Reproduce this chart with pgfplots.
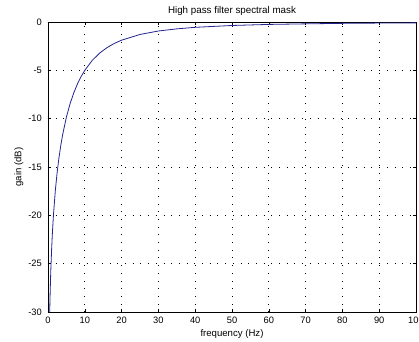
\documentclass[border=0pt]{standalone}
\usepackage{pgfplots}
\pgfplotsset{compat=1.18}
\usepackage{fontspec}
\setmainfont{Liberation Sans}
\definecolor{curveblue}{RGB}{35,35,145}
\begin{document}
\begin{tikzpicture}[x=1pt,y=1pt]
\begin{axis}[
  at={(0,0)}, anchor=south west,
  width=368pt, height=290pt, scale only axis,
  xmin=0, xmax=100, ymin=-30, ymax=0,
  xtick={0,10,...,100}, ytick={-30,-25,...,0},
  xticklabels={0,10,20,30,40,50,60,70,80,90,100},
  yticklabels={-30,-25,-20,-15,-10,-5,0},
  tick align=inside, major tick length=3pt,
  tick style={black, line width=0.5pt},
  axis line style={black, line width=0.8pt},
  grid=major,
  major grid style={black, line width=0.7pt, dash pattern=on 0.7pt off 7pt},
  ticklabel style={font=\fontsize{9.3}{11}\selectfont},
  xticklabel style={anchor=base, inner sep=0pt, yshift=-11.5pt},
  yticklabel style={anchor=east, inner sep=0pt, xshift=-6pt},
  xlabel={frequency (Hz)},
  ylabel={gain (dB)},
  label style={font=\fontsize{9.6}{11}\selectfont},
  xlabel style={at={(axis description cs:0.5,-0.0845)}, anchor=base, inner sep=0pt},
  ylabel style={at={(axis description cs:-0.0788,0.5)}, anchor=center, inner sep=0pt},
  clip=false,
]
\addplot[curveblue, line width=0.8pt] coordinates {
(0.465,-30.00) (0.5,-29.37) (0.6,-27.79) (0.7,-26.45) (0.8,-25.30)
(1,-23.37) (1.2,-21.79) (1.5,-19.87) (2,-17.41) (2.5,-15.51)
(3,-13.98) (3.5,-12.70) (4,-11.62) (5,-9.84) (6,-8.45) (7,-7.33)
(8,-6.41) (9,-5.64) (10,-5.00) (12,-3.98) (14,-3.23) (16,-2.66)
(18,-2.22) (20,-1.88) (25,-1.29) (30,-0.93) (35,-0.71) (40,-0.55)
(50,-0.36) (60,-0.25) (70,-0.19) (80,-0.14) (90,-0.11) (100,-0.09)
};
\node[font=\fontsize{9.8}{11}\selectfont, anchor=base, inner sep=0pt] at (axis description cs:0.5,1.0276) {High pass filter spectral mask};
\end{axis}
\pgfresetboundingbox
\path[use as bounding box] (-48pt,-29pt) rectangle (371pt,312pt);
\end{tikzpicture}
\end{document}
